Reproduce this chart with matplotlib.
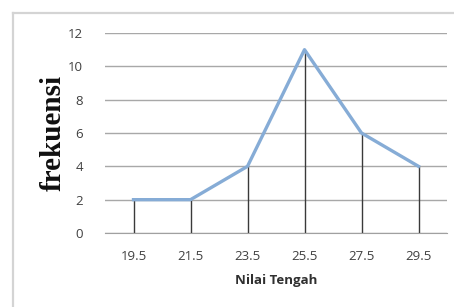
import matplotlib
matplotlib.use("Agg")
import matplotlib.pyplot as plt
from matplotlib.lines import Line2D

categories = ["19.5", "21.5", "23.5", "25.5", "27.5", "29.5"]
frekuensi = [2, 2, 4, 11, 6, 4]
yticks = [0, 2, 4, 6, 8, 10, 12]

fig = plt.figure(figsize=(4.54, 3.07), dpi=100)
W, H = 454, 307
# outer chart frame (left and top edges only visible)
fig.lines.append(Line2D([12.5 / W, 12.5 / W], [0, 1 - 13 / H], transform=fig.transFigure,
                        color="#d4d4d4", linewidth=1.6))
fig.lines.append(Line2D([12.5 / W, 1], [1 - 13 / H, 1 - 13 / H], transform=fig.transFigure,
                        color="#d4d4d4", linewidth=1.6))

ax = fig.add_axes([105 / W, 1 - 233 / H, 342 / W, 200 / H])
x = list(range(len(categories)))
ax.set_xlim(-0.5, len(categories) - 0.5)
ax.set_ylim(0, 12)
ax.set_yticks(yticks)
ax.set_xticks(x)
ax.set_xticklabels(categories)
ax.grid(axis="y", color="#a8a8a8", linewidth=1)
ax.set_axisbelow(True)
for s in ["top", "right", "left"]:
    ax.spines[s].set_visible(False)
ax.spines["bottom"].set_color("#a0a0a0")
ax.tick_params(length=0, labelsize=9.5, colors="#404040")
ax.tick_params(axis="x", pad=12.5)
ax.tick_params(axis="y", pad=16)
for lbl in ax.get_xticklabels() + ax.get_yticklabels():
    lbl.set_family("Open Sans")

ax.vlines(x, 0, frekuensi, color="#3a3a3a", linewidth=1)
ax.plot(x, frekuensi, color="#86acd6", linewidth=2.4, zorder=3)

ax.set_xlabel("Nilai Tengah", family="Open Sans", fontweight="bold",
              fontsize=9.5, color="#303030", labelpad=8)
ax.set_ylabel("frekuensi", family="Liberation Serif", fontweight="bold",
              fontsize=21, color="#101010", labelpad=1)

fig.savefig("out.png", dpi=100, facecolor="white")
